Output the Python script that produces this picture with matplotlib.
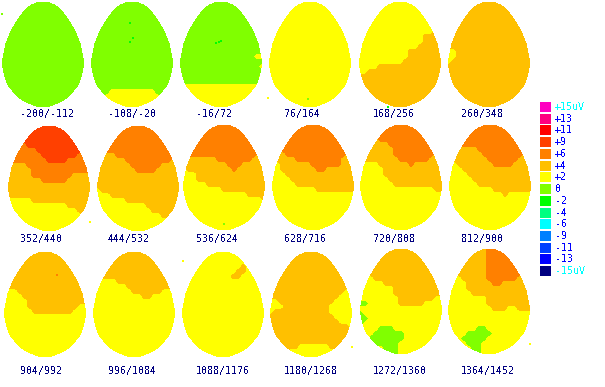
import numpy as np
import matplotlib
matplotlib.use('Agg')
import matplotlib.pyplot as plt
from matplotlib.colors import ListedColormap

# legend, top to bottom
legend_labels = ['+15uV', '+13', '+11', '+9', '+6', '+4', '+2', '0',
                 '-2', '-4', '-6', '-9', '-11', '-13', '-15uV']
legend_values = [15, 13, 11, 9, 6, 4, 2, 0, -2, -4, -6, -9, -11, -13, -15]
legend_colors = ['#ff00c0', '#ff0080', '#ff0000', '#ff4000', '#ff8000',
                 '#ffc000', '#ffff00', '#80ff00', '#00ff00', '#00ff80',
                 '#00ffff', '#0080ff', '#0040ff', '#0000ff', '#000080']

window_labels = ['-200/-112', '-108/-20', '-16/72', '76/164', '168/256', '260/348',
                 '352/440', '444/532', '536/624', '628/716', '720/808', '812/900',
                 '904/992', '996/1084', '1088/1176', '1180/1268', '1272/1360', '1364/1452']

# digits are bands: 0 -> 0uV, 1 -> +2, 2 -> +4, 3 -> +6, 4 -> +9
band_values = [0, 2, 4, 6, 9]

A = '0' * 17
Y = '1' * 17
O = '2' * 17
R = '3' * 17
D = '4' * 17

map_01 = [A] * 22
map_02 = [A] * 18 + ['00001111111110000', '00011111111111000', Y, Y]
map_03 = [A] * 11 + ['00000000000000011', A, '00000000000000001', A,
                     '00000000000000001', A] + [Y] * 5
map_04 = [Y] * 22
map_05 = [Y] * 6 + ['11111111111111122', '11111111111112222', '11111111111112222',
                    '11111111111122222', '11111111112222222', '11111111112222222',
                    '11111111122222222', '11112222222222222', '11222222222222222'] + [O] * 7
map_06 = [O] * 10 + ['11222222222222222', '11222222222222222', '12222222222222222'] + [O] * 9
map_07 = [D] * 3 + ['33344444444444444', '33334444444444444', '33333344444444433',
                    '33333334444444333', '33333333444433333', '22223333333333333',
                    '22222333333333333', '22222333333332222', '22222223333322222',
                    O, O, O, '11111222222222222', '11111111111122222',
                    '11111111111111222', '11111111111111122', Y, Y, Y]
map_08 = [R] * 6 + ['22223333333333333', '22222233333333322', '22222223333332222',
                    '22222222333322222', O, O, O, '12222222222222222',
                    '11122222222222222', '11111122222222222', '11111111112222222',
                    '11111111111222222', '11111111111112222', '11111111111111122', Y, Y]
map_09 = [R] * 6 + ['33333333333333322', '22222223333333222', '22222222233322222',
                    '12222222223222222', '11122222222222222', '11122222222222222',
                    '11111222222222222', '11111111222222222', '11111111111112222',
                    '11111111111111112'] + [Y] * 6
map_10 = [R] * 6 + ['22233333333333322', '22222333333333222', '11222222333333222',
                    '11222222233222222', '11122222222222222', '11112222222222222',
                    '11111222222222222', '11111111122222222'] + [Y] * 8
map_11 = [R] * 3 + ['22223333333333333', '22222233333333333', '22222223333333333',
                    '22222223333333322', '12222222333333222', '11112222223222222',
                    '11111222222222222', '11111222222222222', '11111122222222222',
                    '11111112222222222', '11111111111111122'] + [Y] * 8
map_12 = [R] * 5 + ['22222233333333333', '22222223333333322', '22222222333333222',
                    '11222222233332222', '11122222222222222', '11112222222222222',
                    '11111222222222222', '11111122222222222', '11111111122222222',
                    '11111111111211111'] + [Y] * 7
map_13 = [O] * 8 + ['11122222222222222', '11112222222222222', '11111222222222222',
                    '11111222222222211', '11111122222222111'] + [Y] * 9
map_14 = [O] * 6 + ['11111222222222222', '11111112222222222', '11111111222222111',
                    '11111111112211111'] + [Y] * 12
map_15 = [Y] * 3 + ['11111111111121111', '11111111111221111', '11111111112211111'] + [Y] * 16
map_16 = [O] * 8 + ['22222222222222211', '22222222222222111', '11222222222221111',
                    '11122222222211111', '12222222222211111', '22222222222221111',
                    '22222222222222111', '22222222222222221', O, O, O,
                    '22222211111122222', '22221111111111222', Y]
map_17 = [O] * 6 + ['11122222222222222', '11111222222222222', '11111112222222222',
                    '11111112222222222', '11111111222222211', '00111111222221111',
                    Y, '01111111111111111', '00111111111111111', '01111111111111111',
                    '11110001111111111', '11100000011111111', '11000000011111111',
                    '11100000111111111', '11111000111111111', '11111000111111111']
map_18 = ['22222222333333333'] * 6 + ['11122222333333222', '11112222233222222',
                                      '11112222222222222', '11111222222222222',
                                      '11111111222222222', '11111111222222222',
                                      '11111111122211222', Y, Y, Y,
                                      '11111100111111111', '11110000011111111',
                                      '11100000111111111', '11110001111111111',
                                      '11111001111111111', '11111001111111111']
all_maps = [map_01, map_02, map_03, map_04, map_05, map_06,
            map_07, map_08, map_09, map_10, map_11, map_12,
            map_13, map_14, map_15, map_16, map_17, map_18]

# isolated pixels, in and around the heads
speck_x = [2, 130, 133, 130, 216, 219, 221, 308, 388, 268, 90, 183, 352, 530, 57, 224]
speck_y = [14, 23, 38, 42, 43, 42, 41, 99, 107, 98, 222, 261, 347, 344, 275, 224]
speck_uv = [0, -2, -2, -2, -2, -2, -2, 0, -2, 2, 2, 2, 2, 2, 6, 0]

# head outline: half width against distance from the top
egg_y = [1, 4, 9, 16, 22, 29, 36, 42, 49, 57, 67, 74, 84, 94, 98, 101, 104, 106]
egg_hw = [5.5, 12.8, 18.7, 24, 28, 32, 35, 37.5, 39, 40.5, 40.5, 39, 35.8, 27.7, 23, 18, 11, 5]

lefts = [2, 91, 180, 269, 359, 448,
         8, 97, 183, 272, 360, 449,
         4, 93, 182, 270, 360, 448]
tops = [1, 1, 1, 1, 1, 1,
        125, 125, 124, 124, 124, 124,
        251, 251, 251, 251, 248, 248]
label_x = [20, 108, 196, 284, 373, 461]
label_y = [114, 239, 371]

cmap = ListedColormap(legend_colors)
value_to_index = dict(zip(legend_values, range(15)))
font = dict(family='DejaVu Sans Mono', fontsize=7.1, antialiased=False, va='center')


def upsample(rows):
    g = np.array([[int(c) for c in r] for r in rows], dtype=float)
    ys = np.arange(107)
    xs = np.arange(82)
    node_y = np.arange(g.shape[0]) * 5.0
    node_x = np.arange(g.shape[1]) * 5.0625
    by_y = np.array([np.interp(ys, node_y, g[:, i]) for i in range(g.shape[1])]).T
    fine = np.array([np.interp(xs, node_x, by_y[j]) for j in range(len(ys))])
    return np.rint(fine).astype(int)


fig = plt.figure(figsize=(6.05, 3.87), dpi=100)
ax = fig.add_axes([0, 0, 1, 1])

for k, rows in enumerate(all_maps):
    bands = upsample(rows)
    idx = np.vectorize(lambda b: value_to_index[band_values[b]])(bands).astype(float)
    ys, xs = np.mgrid[0:107, 0:82]
    half = np.interp(ys + 0.5, egg_y, egg_hw, left=0, right=0)
    idx[np.abs(xs - 40.5) > half] = np.nan
    ax.imshow(idx, cmap=cmap, vmin=-0.5, vmax=14.5, interpolation='nearest',
              extent=(lefts[k], lefts[k] + 82, tops[k] + 107, tops[k]), aspect='auto')
    ax.text(label_x[k % 6], label_y[k // 6], window_labels[k], color='#000080', **font)

speck_idx = [legend_colors[value_to_index[v]] for v in speck_uv]
ax.scatter(speck_x, speck_y, s=3.5, marker='s', c=speck_idx, linewidths=0)

for i, lab in enumerate(legend_labels):
    y = 102 + i * 11.73
    ax.bar(545.5, 10, width=11, bottom=y, color=legend_colors[i], linewidth=0)
    c = '#00ffff' if i in (0, 14) else '#0000ff'
    ax.text(555, y + 5, lab, color=c, **font)

ax.set_xlim(0, 605)
ax.set_ylim(387, 0)
ax.axis('off')
fig.savefig('out.png', dpi=100, facecolor='white')
